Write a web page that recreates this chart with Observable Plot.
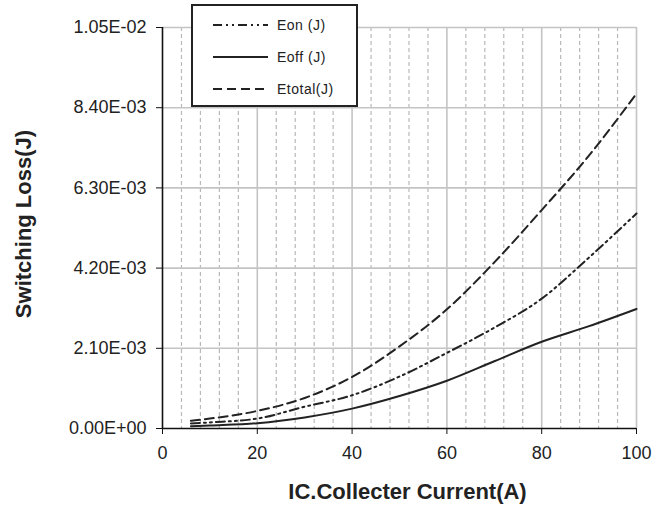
<!DOCTYPE html>
<html><head><meta charset="utf-8">
<script src="https://cdn.jsdelivr.net/npm/d3@7"></script>
<script src="https://cdn.jsdelivr.net/npm/@observablehq/plot@0.6"></script>
<style>
body{margin:0;background:#fff;}
#wrap{position:relative;width:656px;height:516px;}
#legend{position:absolute;left:191px;top:4px;width:163px;height:99px;border:2px solid #222;background:#fff;}
</style>
</head><body><div id="wrap"><div id="chart"></div><div id="legend"></div></div>
<script>
// Data (J vs A)
const current = [6, 10, 20, 30, 40, 50, 60, 70, 80, 90, 100];
const eon    = [0.00013, 0.00016, 0.00026, 0.00057, 0.00087, 0.00136, 0.00198, 0.00264, 0.00340, 0.00448, 0.00563];
const eoff   = [0.00006, 0.00008, 0.00014, 0.00029, 0.00052, 0.00085, 0.00125, 0.00176, 0.00227, 0.00268, 0.00313];
const etotal = [0.00020, 0.00026, 0.00046, 0.00080, 0.00135, 0.00215, 0.00312, 0.00435, 0.00572, 0.00715, 0.00877];
const seriesNames = ["Eon (J)", "Eoff (J)", "Etotal(J)"];
const seriesValues = [eon, eoff, etotal];
const xTicks = [0, 20, 40, 60, 80, 100];
const xMinor = [4, 8, 12, 16, 24, 28, 32, 36, 44, 48, 52, 56, 64, 68, 72, 76, 84, 88, 92, 96];
const yTicks = [0, 0.0021, 0.0042, 0.0063, 0.0084, 0.0105];
const yTickLabels = ["0.00E+00", "2.10E-03", "4.20E-03", "6.30E-03", "8.40E-03", "1.05E-02"];
const xLabel = "IC.Collecter Current(A)";
const yLabel = "Switching Loss(J)";

const dashes = {"Eon (J)": "9,4,2,4,2,4", "Eoff (J)": "none", "Etotal(J)": "9,5"};

const rows = seriesNames.flatMap((s, i) => current.map((x, j) => ({x, y: seriesValues[i][j], s})));

const chart = Plot.plot({
  width: 656, height: 516,
  marginLeft: 162, marginRight: 20, marginTop: 27, marginBottom: 88,
  style: {fontFamily: "'Liberation Sans', Arial, sans-serif", fontSize: "18px", color: "#222", background: "#fff"},
  x: {domain: [0, 100]},
  y: {domain: [0, 0.0105]},
  marks: [
    Plot.ruleX(xMinor, {stroke: "#b8b8b8", strokeWidth: 1.2, strokeDasharray: "4,3"}),
    Plot.ruleX(xTicks.slice(1), {stroke: "#c4c4c4", strokeWidth: 1.6}),
    Plot.ruleY(yTicks.slice(1), {stroke: "#c4c4c4", strokeWidth: 1.6}),
    ...seriesNames.map(name => Plot.line(rows.filter(d => d.s === name), {
      x: "x", y: "y", stroke: "#222", strokeWidth: 2, curve: "monotone-x",
      strokeDasharray: dashes[name]
    })),
    Plot.ruleX([0], {stroke: "#111", strokeWidth: 1.6}),
    Plot.ruleY([0], {stroke: "#111", strokeWidth: 1.6}),
    Plot.axisX({ticks: xTicks, tickSize: 6, tickPadding: 12, label: null, stroke: "#111"}),
    Plot.axisY({ticks: yTicks, tickSize: 6, tickPadding: 10, label: null, stroke: "#111",
      tickFormat: v => yTickLabels[yTicks.indexOf(v)]}),
    Plot.text([xLabel], {frameAnchor: "bottom", textAnchor: "middle", dx: 8, dy: 70, fontWeight: "bold", fontSize: 22, fill: "#222"}),
    Plot.text([yLabel], {frameAnchor: "left", textAnchor: "middle", dx: -139, dy: -4, rotate: -90, fontWeight: "bold", fontSize: 22, fill: "#222", letterSpacing: 1.2})
  ]
});
document.getElementById("chart").appendChild(chart);

// Legend
const lg = d3.select("#legend").append("svg").attr("width", 163).attr("height", 99)
  .style("font-family", "'Liberation Sans', Arial, sans-serif");
seriesNames.forEach((name, i) => {
  const y = 19 + i * 32;
  lg.append("line").attr("x1", 20).attr("x2", 75).attr("y1", y).attr("y2", y)
    .attr("stroke", "#222").attr("stroke-width", 1.8)
    .attr("stroke-dasharray", dashes[name] === "none" ? null : dashes[name]);
  lg.append("text").attr("x", 84).attr("y", y).attr("dy", "0.35em")
    .attr("font-size", 14).attr("letter-spacing", 0.5).attr("fill", "#222").text(name);
});
</script>
</body></html>
